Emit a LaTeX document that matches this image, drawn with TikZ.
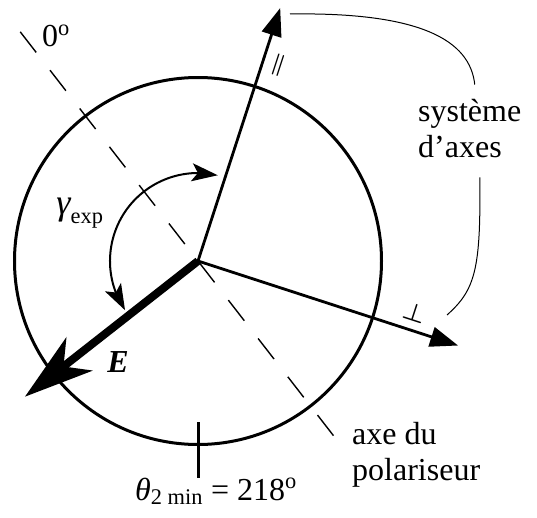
\RequirePackage{fix-cm}
\documentclass[tikz,border=0pt]{standalone}
\usepackage{fontspec}
\setmainfont{Liberation Serif}
\usepackage{amsmath}
\usepackage{bm}
\usetikzlibrary{arrows.meta,bending}

\begin{document}
\begin{tikzpicture}[x=1pt, y=1pt,
    axis/.style={line width=2.8pt, -{Triangle[length=28pt, width=20pt]}},
    polaxis/.style={line width=1.4pt, dash pattern=on 26pt off 22.5pt},
    callout/.style={line width=1pt},
    lbl/.style={font=\fontsize{32}{36}\selectfont, inner sep=0pt},
    sign/.style={inner sep=0pt, rotate=-18}]
    \useasboundingbox (-198,-256) rectangle (339,261);
    \coordinate (O) at (0,0);
    % axe du polariseur
    \draw[polaxis] (127.8:290) -- (-52.2:221);
    \draw[line width=3pt] (O) circle[radius=183.5pt];
    \draw[line width=3pt] (270:161) -- (270:217);
    % systeme d'axes
    \draw[axis] (O) -- (72:266) coordinate (par);
    \draw[axis] (O) -- (-18:273.5) coordinate (perp);
    \node[sign, font=\fontsize{22}{22}\selectfont] (parsign) at (80,196) {$\bm{\parallel}$};
    \node[sign, font=\fontsize{25}{25}\selectfont] (perpsign) at (217,-52) {$\bm{\perp}$};
    % champ E
    \draw[line width=8pt, -{Stealth[length=69pt, width=42pt, inset=20pt]}] (O) -- (218.1:220) coordinate (Etip);
    \draw[line width=2pt, {Stealth[length=26pt, width=18pt, inset=6pt]}-{Stealth[length=26pt, width=18pt, inset=6pt]}]
        (214:88) arc[start angle=214, end angle=77, radius=88pt];
    % textes
    \node[lbl] (zero) at (-142,225) {0\textsuperscript{o}};
    \node[lbl] (gamma) at (-118,48) {$\textit{\fontsize{36}{36}\selectfont γ}_{\text{exp}}$};
    \node[lbl] (E) at (-80,-101) {\textbf{\textit{E}}};
    \node[lbl, align=left, anchor=west] (axes) at (220,132) {système\\d’axes};
    \node[lbl, align=left, anchor=west] (polar) at (154,-194) {axe du\\polariseur};
    \node[lbl, anchor=base] (theta) at (18,-239) {$\textit{θ}_{\text{2 min}}$ = 218\textsuperscript{o}};
    \coordinate (parend) at (92,247);
    \coordinate (perpend) at (249,-54);
    \draw[callout] (parend) .. controls (222,249) and (272,221) .. ([xshift=5pt,yshift=15pt]axes.north);
    \draw[callout] ([xshift=10pt,yshift=-19pt]axes.south) .. controls (283,-9) and (277,-29) .. (perpend);
\end{tikzpicture}
\end{document}
